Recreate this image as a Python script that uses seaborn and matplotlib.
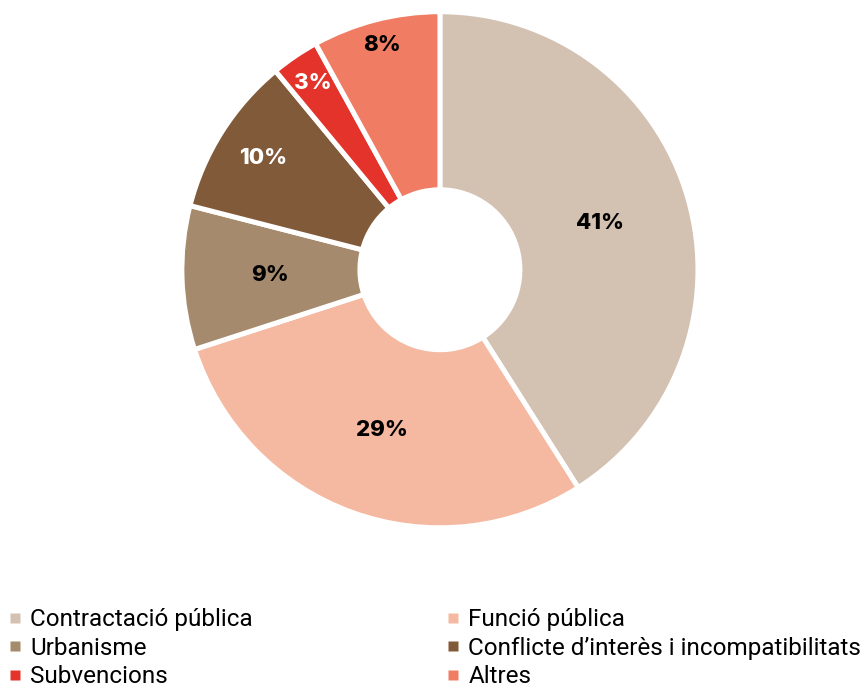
import numpy as np
import matplotlib.pyplot as plt
from matplotlib.lines import Line2D
import seaborn as sns

categories = ['Contractació pública', 'Funció pública', 'Urbanisme',
              "Conflicte d\u2019interès i incompatibilitats", 'Subvencions', 'Altres']
shares = [41, 29, 9, 10, 3, 8]
colors = ['#D3C1B2', '#F5B8A0', '#A68A6D', '#815A39', '#E4332B', '#EF7C63']
label_colors = ['black', 'black', 'black', 'white', 'white', 'black']
# small slices have their label pushed toward the outer rim
label_r = [0.645, 0.66, 0.66, 0.81, 0.875, 0.90]

sns.set_theme(style='white')
plt.rcParams['font.family'] = ['Roboto', 'DejaVu Sans']

fig = plt.figure(figsize=(8.66, 6.89), dpi=100)
ax = fig.add_axes([0.210, 0.234, 0.596, 0.749])

wedges, _ = ax.pie(shares, colors=colors, startangle=90, counterclock=False,
                   wedgeprops=dict(width=0.69, edgecolor='white', linewidth=3.6))
ax.set_xlim(-1, 1)
ax.set_ylim(-1, 1)
ax.set_aspect('equal')

# percentage labels inside each ring segment
total = sum(shares)
start = 90.0
for val, c, r in zip(shares, label_colors, label_r):
    sweep = val / total * 360
    mid = np.deg2rad(start - sweep / 2)
    ax.text(r * np.cos(mid), r * np.sin(mid), f'{val}%', ha='center', va='center',
            fontsize=16, fontweight='heavy', color=c, family=['Inter', 'DejaVu Sans'])
    start -= sweep

# legend, row-major order like the reference
order = [0, 2, 4, 1, 3, 5]
handles = [Line2D([], [], marker='s', linestyle='none', markersize=7,
                  markerfacecolor=colors[i], markeredgecolor='none') for i in order]
labels = [categories[i] for i in order]
leg = fig.legend(handles, labels, ncol=2, loc='upper left', bbox_to_anchor=(0.0104, 0.117),
                 frameon=False, fontsize=17.5, handletextpad=0.37, handlelength=0.5,
                 columnspacing=8.0, labelspacing=0.22, borderaxespad=0, borderpad=0)
for t in leg.get_texts():
    t.set_color('black')

fig.savefig('out.png', dpi=100)
